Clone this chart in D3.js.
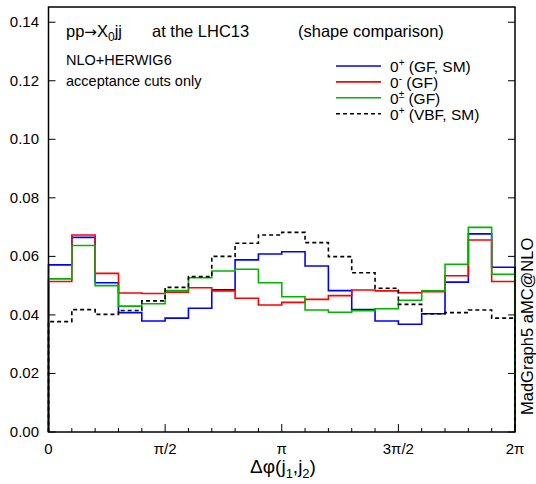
<!DOCTYPE html>
<html>
<head>
<meta charset="utf-8">
<script src="https://cdn.jsdelivr.net/npm/d3@7"></script>
<style>
  body { margin: 0; background: #fff; }
  svg { display: block; font-family: "Liberation Sans", Arial, sans-serif; }
</style>
</head>
<body>
<div class="Canvas"></div>
<script>
// histograms of delta phi between the two jets, 20 bins over [0, 2pi]
const nBins = 20;
const gfSM  = [0.0571, 0.0665, 0.0510, 0.0408, 0.0379, 0.0389, 0.0423, 0.0486, 0.0588, 0.0608,
               0.0616, 0.0567, 0.0483, 0.0418, 0.0379, 0.0368, 0.0404, 0.0512, 0.0677, 0.0563];
const gfOdd = [0.0514, 0.0673, 0.0542, 0.0475, 0.0473, 0.0478, 0.0493, 0.0482, 0.0457, 0.0434,
               0.0443, 0.0453, 0.0466, 0.0485, 0.0482, 0.0476, 0.0479, 0.0534, 0.0656, 0.0514];
const gfMix = [0.0523, 0.0637, 0.0500, 0.0430, 0.0438, 0.0483, 0.0527, 0.0550, 0.0556, 0.0510,
               0.0462, 0.0417, 0.0409, 0.0414, 0.0421, 0.0450, 0.0482, 0.0573, 0.0699, 0.0539];
const vbfSM = [0.0377, 0.0418, 0.0402, 0.0415, 0.0448, 0.0494, 0.0531, 0.0600, 0.0645, 0.0673,
               0.0682, 0.0647, 0.0599, 0.0544, 0.0491, 0.0436, 0.0404, 0.0408, 0.0417, 0.0389];

const yTicks = [0, 0.02, 0.04, 0.06, 0.08, 0.10, 0.12, 0.14];
const xTicks = [0, Math.PI / 2, Math.PI, 3 * Math.PI / 2, 2 * Math.PI];
const xTickLabels = ['0', 'π/2', 'π', '3π/2', '2π'];

const series = [
  { values: gfSM,  color: '#0000ff', dash: null, label: '0', sup: '+', rest: ' (GF, SM)' },
  { values: gfOdd, color: '#ff0000', dash: null, label: '0', sup: '-', rest: ' (GF)' },
  { values: gfMix, color: '#00b400', dash: null, label: '0', sup: '±', rest: ' (GF)' },
  { values: vbfSM, color: '#000000', dash: '4,3', label: '0', sup: '+', rest: ' (VBF, SM)' },
];

const width = 536, height = 484;
const plotLeft = 48.5, plotRight = 515, plotTop = 7, plotBottom = 432;

const svg = d3.select('.Canvas').append('svg').attr('width', width).attr('height', height);

const x = d3.scaleLinear().domain([0, 2 * Math.PI]).range([plotLeft, plotRight]);
const y = d3.scaleLinear().domain([0, 0.1452]).range([plotBottom, plotTop]);

// bin edges
const binW = 2 * Math.PI / nBins;
const edges = d3.range(nBins).map((i) => i * binW);

const line = d3.line().x((d) => x(d[0])).y((d) => y(d[1])).curve(d3.curveStepAfter);

// histograms, drawn from 0 up and back down to 0 at the end
series.forEach((s) => {
  let pts = [[0, 0]];
  edges.forEach((e, i) => pts.push([e, s.values[i]]));
  pts.push([2 * Math.PI, s.values[nBins - 1]]);
  pts.push([2 * Math.PI, 0]);
  svg.append('path')
    .attr('d', line(pts))
    .attr('fill', 'none')
    .attr('stroke', s.color)
    .attr('stroke-width', 1.6)
    .attr('stroke-dasharray', s.dash);
});

// frame
svg.append('rect')
  .attr('x', plotLeft).attr('y', plotTop)
  .attr('width', plotRight - plotLeft).attr('height', plotBottom - plotTop)
  .attr('fill', 'none').attr('stroke', '#000').attr('stroke-width', 1.5);

// y ticks on both sides
yTicks.forEach((t) => {
  svg.append('line').attr('x1', plotLeft).attr('x2', plotLeft + 7).attr('y1', y(t)).attr('y2', y(t))
    .attr('stroke', '#000').attr('stroke-width', 1);
  svg.append('line').attr('x1', plotRight).attr('x2', plotRight - 7).attr('y1', y(t)).attr('y2', y(t))
    .attr('stroke', '#000').attr('stroke-width', 1);
  svg.append('text').attr('x', 39).attr('y', y(t) + 5)
    .attr('text-anchor', 'end').attr('font-size', '15px').text(t.toFixed(2));
});

// x ticks: minor at every bin edge, major at multiples of pi/2
d3.range(nBins + 1).forEach((i) => {
  const major = i % 5 == 0;
  svg.append('line').attr('x1', x(i * binW)).attr('x2', x(i * binW))
    .attr('y1', plotBottom).attr('y2', plotBottom - (major ? 8 : 4))
    .attr('stroke', '#000').attr('stroke-width', 1);
});
xTicks.forEach((t, i) => {
  svg.append('text').attr('x', x(t)).attr('y', 454)
    .attr('text-anchor', 'middle').attr('font-size', '15px').text(xTickLabels[i]);
});

// x axis title
let xt = svg.append('text').attr('x', 283).attr('y', 473).attr('text-anchor', 'middle').attr('font-size', '19px');
xt.append('tspan').text('Δφ(j');
xt.append('tspan').attr('font-size', '13px').attr('dy', 5).text('1');
xt.append('tspan').attr('dy', -5).text(',j');
xt.append('tspan').attr('font-size', '13px').attr('dy', 5).text('2');
xt.append('tspan').attr('dy', -5).text(')');

// header texts
let tt = svg.append('text').attr('x', 66).attr('y', 37).attr('font-size', '16.5px');
tt.append('tspan').text('pp');
tt.append('tspan').attr('font-family', 'DejaVu Sans').attr('font-size', '15px').text('→');
tt.append('tspan').text('X');
tt.append('tspan').attr('font-size', '12px').attr('dy', 4).text('0');
tt.append('tspan').attr('dy', -4).text('jj');
svg.append('text').attr('x', 152).attr('y', 37).attr('font-size', '16.5px').text('at the LHC13');
svg.append('text').attr('x', 298).attr('y', 37).attr('font-size', '16.5px').text('(shape comparison)');
svg.append('text').attr('x', 66).attr('y', 65).attr('font-size', '14.5px').text('NLO+HERWIG6');
svg.append('text').attr('x', 66).attr('y', 86).attr('font-size', '14.5px').text('acceptance cuts only');

// legend
series.forEach((s, i) => {
  const ly = 66 + i * 15.9;
  svg.append('line').attr('x1', 336).attr('x2', 381).attr('y1', ly).attr('y2', ly)
    .attr('stroke', s.color).attr('stroke-width', 1.6).attr('stroke-dasharray', s.dash);
  let lt = svg.append('text').attr('x', 390).attr('y', ly + 6).attr('font-size', '15.5px');
  lt.append('tspan').text(s.label);
  lt.append('tspan').attr('font-size', '10px').attr('dy', -6).text(s.sup);
  lt.append('tspan').attr('dy', 6).text(s.rest);
});

// generator tag
svg.append('text')
  .attr('transform', 'translate(533,415) rotate(-90)')
  .attr('font-size', '16.5px')
  .text('MadGraph5  aMC@NLO');
</script>
</body>
</html>
